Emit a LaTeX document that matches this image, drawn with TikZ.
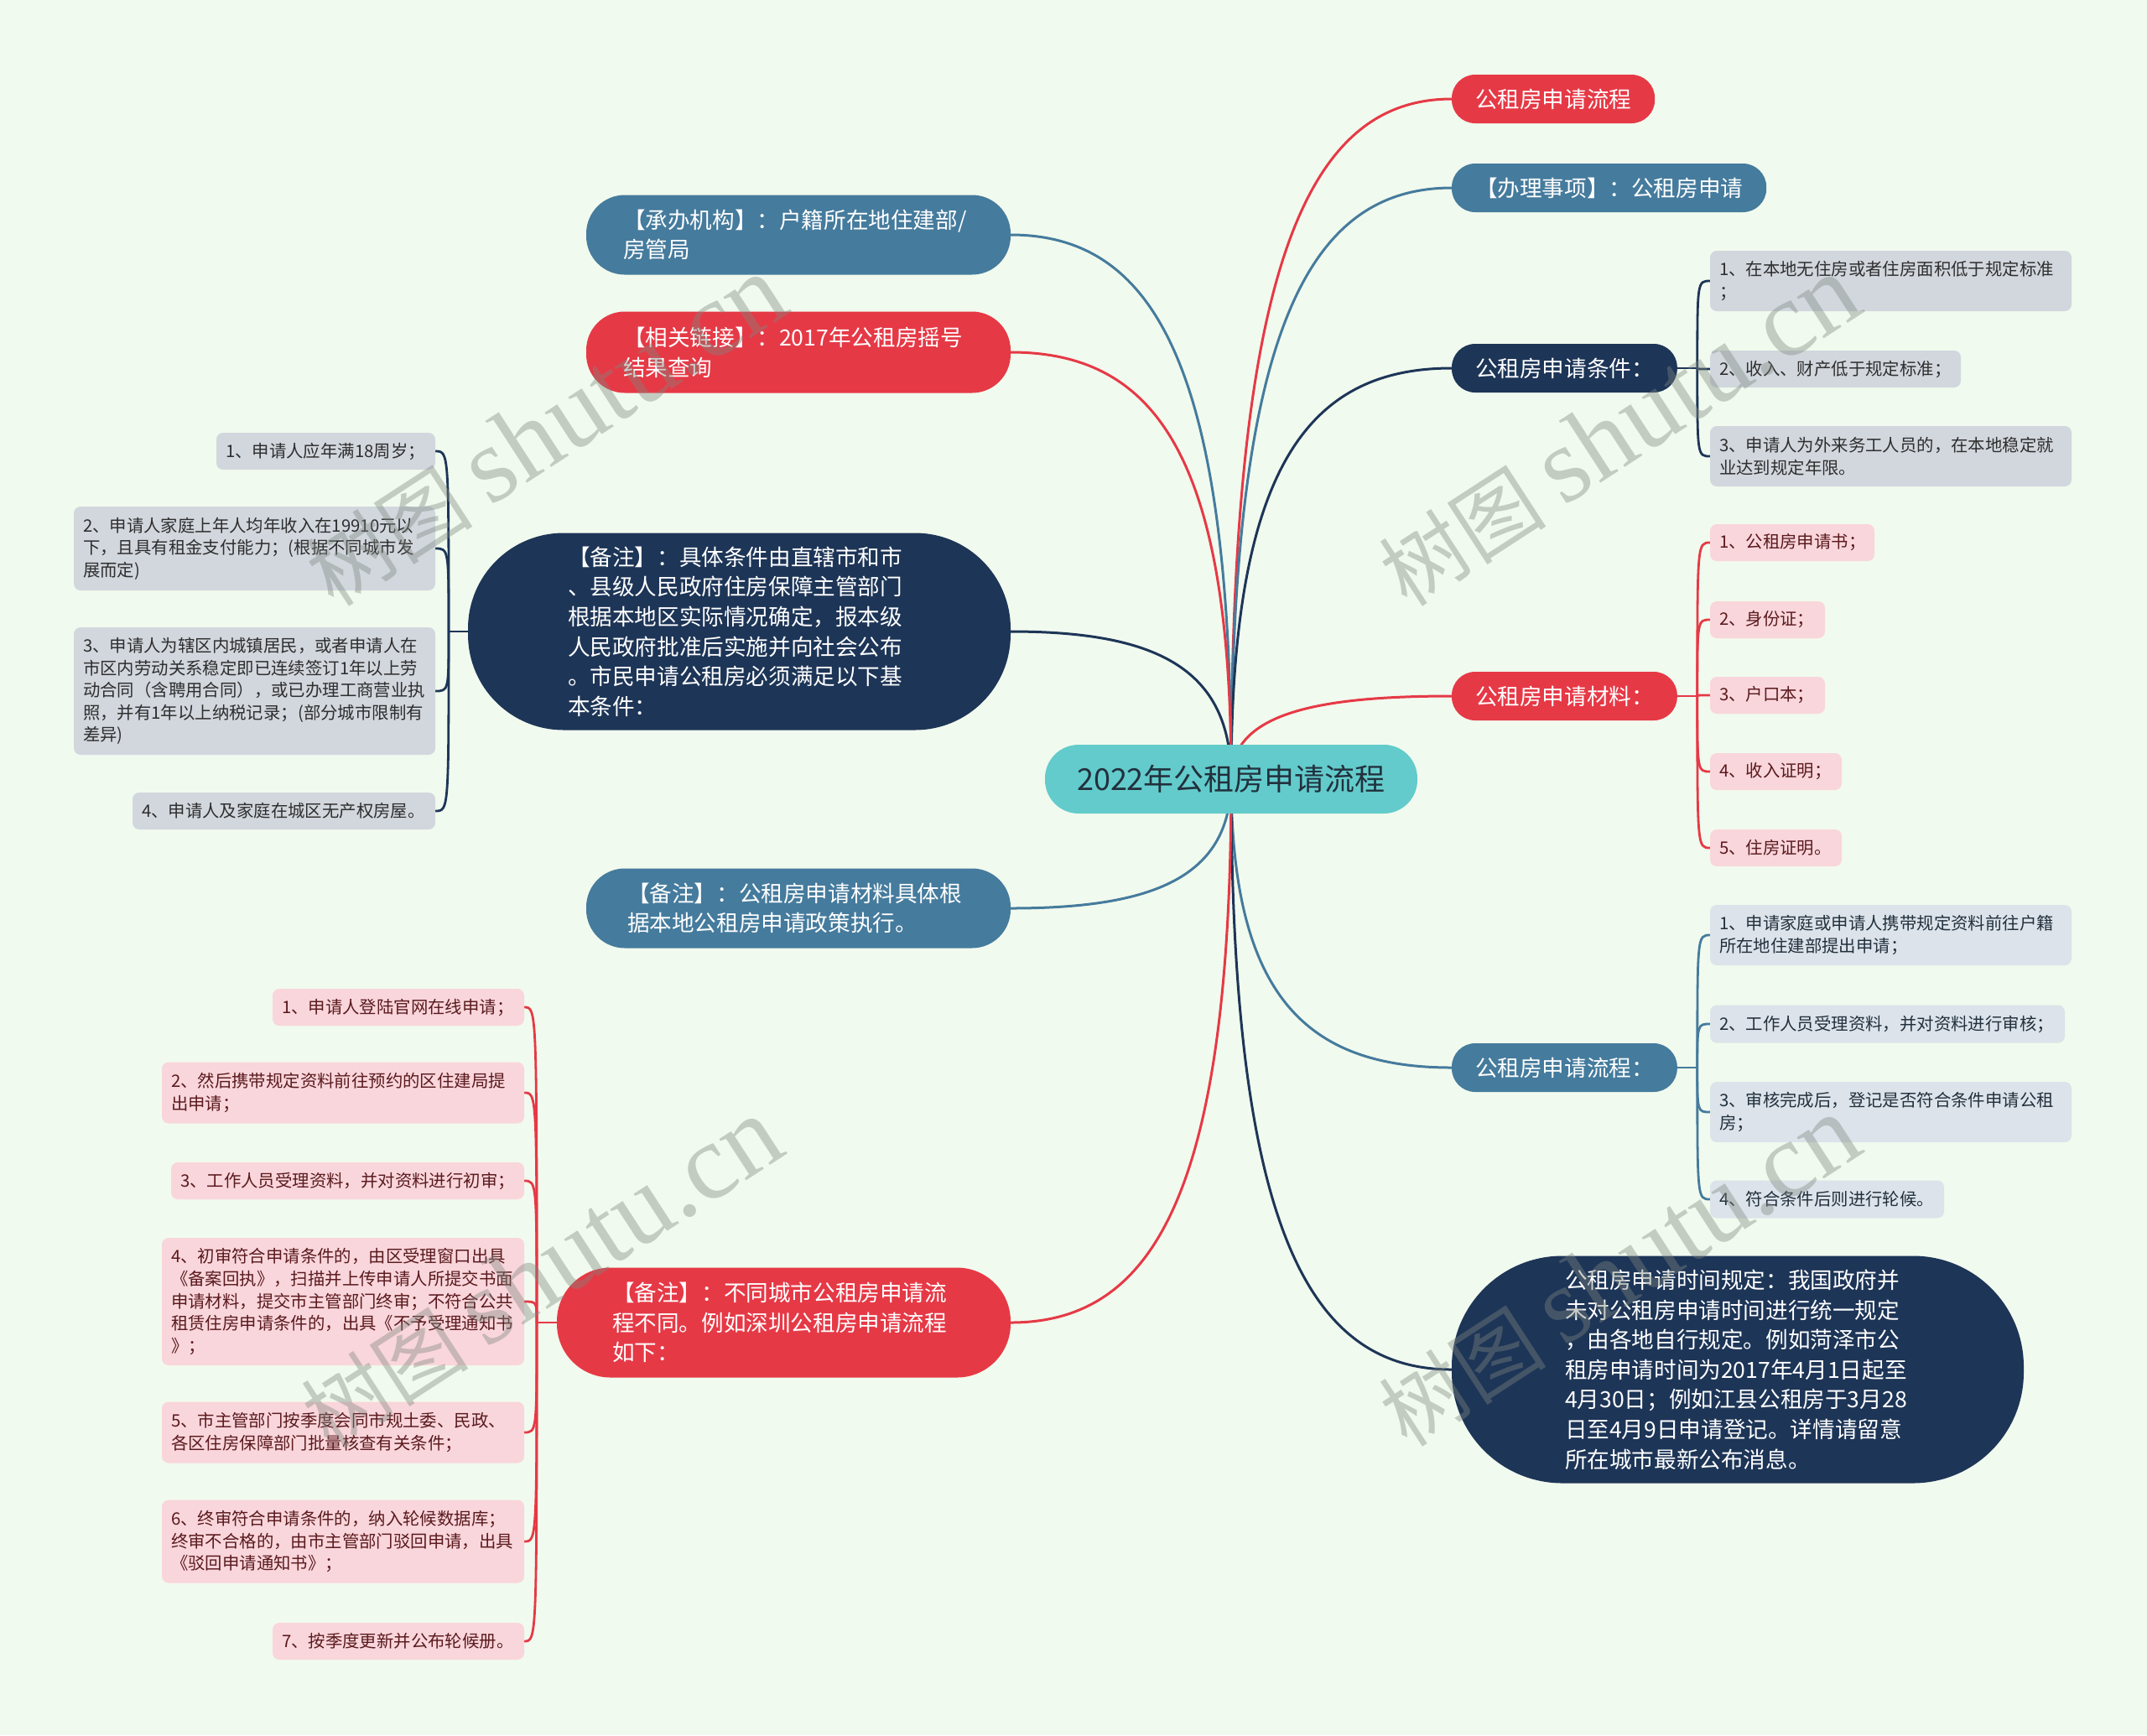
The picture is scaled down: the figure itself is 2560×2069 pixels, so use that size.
\documentclass[tikz,border=0pt]{standalone}
\usepackage{fontspec}
\setmainfont{Noto Sans CJK SC}
\newfontfamily\wmserif{Liberation Serif}
\usetikzlibrary{calc,backgrounds}
\definecolor{bgc}{HTML}{F1FAEE}
\definecolor{cred}{HTML}{E63946}
\definecolor{cblue}{HTML}{457B9D}
\definecolor{cnavy}{HTML}{1D3557}
\definecolor{cteal}{HTML}{63CBCB}
\definecolor{lgray}{HTML}{D2D7DE}
\definecolor{lpink}{HTML}{F9D6DB}
\definecolor{lblue}{HTML}{DCE3EA}
\definecolor{tgray}{HTML}{2E2E2E}
\definecolor{tmaroon}{HTML}{5A1A1E}
\definecolor{tdark}{HTML}{22303D}
\definecolor{wm}{HTML}{7F877F}
\tikzset{
 every node/.style={inner sep=0pt, outer sep=0pt},
 lone/.style={rounded corners=14pt, inner xsep=14pt, minimum height=29pt, text=white, font=\fontsize{13.3}{17.8}\selectfont},
 lbox/.style={rounded corners=#1, text=white, align=left, font=\fontsize{13.3}{17.8}\selectfont},
 leaf/.style={rounded corners=4pt, inner xsep=5.5pt, align=left, font=\fontsize{10.2}{13.3}\selectfont},
 gleaf/.style={leaf, fill=lgray, text=tgray},
 pleaf/.style={leaf, fill=lpink, text=tmaroon},
 bleaf/.style={leaf, fill=lblue, text=tdark},
 link/.style={line width=1.5pt},
 brk/.style={line width=1.4pt},
 wmark/.style={rotate=33, text=wm, opacity=0.4},
}
\newcommand\mmcurve[3]{\draw[link,#1] (#2) .. controls ($(#2)!0.76!(#2 |- #3)$) and ($(#2 |- #3)!0.35!(#3)$) .. (#3);}
\newcommand\mmbrace[3]{\draw[brk,#1] (#2) .. controls (#2 |- #3) .. (#3);}
\begin{document}
\begin{tikzpicture}[x=0.5pt,y=-0.5pt]
\begin{scope}[on background layer]
\fill[bgc] (0,0) rectangle (2560,2069);
\end{scope}
\useasboundingbox (0,0) rectangle (2560,2069);

% root
\node[fill=cteal, rounded corners=20pt, minimum width=222pt, minimum height=41pt, text=tdark, font=\fontsize{18}{20}\selectfont] (root) at (1468,929) {2022年公租房申请流程};

% right level 1
\node[lone, fill=cred, anchor=west] (r1) at (1731,118) {公租房申请流程};
\node[lone, fill=cblue, anchor=west] (r2) at (1731,224) {【办理事项】：公租房申请};
\node[lone, fill=cnavy, anchor=west] (r3) at (1731,439) {公租房申请条件：};
\node[lone, fill=cred, anchor=west] (r4) at (1731,830) {公租房申请材料：};
\node[lone, fill=cblue, anchor=west] (r5) at (1731,1273) {公租房申请流程：};
\node[lbox=66pt, fill=cnavy, anchor=west, inner xsep=67.5pt, text width=206pt, minimum height=135.5pt] (r6) at (1731,1633) {公租房申请时间规定：我国政府并\\未对公租房申请时间进行统一规定\\，由各地自行规定。例如菏泽市公\\租房申请时间为2017年4月1日起至\\4月30日；例如江县公租房于3月28\\日至4月9日申请登记。详情请留意\\所在城市最新公布消息。};

% left level 1
\node[lbox=23pt, fill=cblue, anchor=east, inner xsep=22pt, text width=209pt, minimum height=47.5pt] (l1) at (1205,280) {【承办机构】：户籍所在地住建部/\\房管局};
\node[lbox=23pt, fill=cred, anchor=east, inner xsep=22pt, text width=209pt, minimum height=48.5pt] (l2) at (1205,420) {【相关链接】：2017年公租房摇号\\结果查询};
\node[lbox=57pt, fill=cnavy, anchor=east, inner xsep=59.5pt, text width=204.5pt, minimum height=117.5pt] (l3) at (1205,753) {【备注】：具体条件由直辖市和市\\、县级人民政府住房保障主管部门\\根据本地区实际情况确定，报本级\\人民政府批准后实施并向社会公布\\。市民申请公租房必须满足以下基\\本条件：};
\node[lbox=23pt, fill=cblue, anchor=east, inner xsep=24.5pt, text width=204pt, minimum height=47.5pt] (l4) at (1205,1083) {【备注】：公租房申请材料具体根\\据本地公租房申请政策执行。};
\node[lbox=32pt, fill=cred, anchor=east, inner xsep=33pt, text width=204.5pt, minimum height=65.5pt] (l5) at (1205,1577) {【备注】：不同城市公租房申请流\\程不同。例如深圳公租房申请流程\\如下：};

% right leaves: conditions
\node[gleaf, anchor=west, text width=204.5pt, minimum height=36pt] (c1) at (2039,335) {1、在本地无住房或者住房面积低于规定标准\\；};
\node[gleaf, anchor=west, text width=138.5pt, minimum height=22pt] (c2) at (2039,440) {2、收入、财产低于规定标准；};
\node[gleaf, anchor=west, text width=204.5pt, minimum height=36pt] (c3) at (2039,544) {3、申请人为外来务工人员的，在本地稳定就\\业达到规定年限。};

% right leaves: materials
\node[pleaf, anchor=west, text width=87pt, minimum height=22pt] (m1) at (2039,647) {1、公租房申请书；};
\node[pleaf, anchor=west, text width=57.5pt, minimum height=22pt] (m2) at (2039,739) {2、身份证；};
\node[pleaf, anchor=west, text width=57.5pt, minimum height=22pt] (m3) at (2039,829) {3、户口本；};
\node[pleaf, anchor=west, text width=67.5pt, minimum height=22pt] (m4) at (2039,920) {4、收入证明；};
\node[pleaf, anchor=west, text width=67.5pt, minimum height=22pt] (m5) at (2039,1011) {5、住房证明。};

% right leaves: process
\node[bleaf, anchor=west, text width=204.5pt, minimum height=36pt] (p1) at (2039,1115) {1、申请家庭或申请人携带规定资料前往户籍\\所在地住建部提出申请；};
\node[bleaf, anchor=west, text width=200.5pt, minimum height=22.5pt] (p2) at (2039,1221) {2、工作人员受理资料，并对资料进行审核；};
\node[bleaf, anchor=west, text width=204.5pt, minimum height=36pt] (p3) at (2039,1326) {3、审核完成后，登记是否符合条件申请公租\\房；};
\node[bleaf, anchor=west, text width=128.5pt, minimum height=22.5pt] (p4) at (2039,1430) {4、符合条件后则进行轮候。};

% left leaves: basic conditions
\node[gleaf, anchor=east, text width=119.5pt, minimum height=22pt] (g1) at (519,538) {1、申请人应年满18周岁；};
\node[gleaf, anchor=east, text width=204.5pt, minimum height=50pt] (g2) at (519,654) {2、申请人家庭上年人均年收入在19910元以\\下，且具有租金支付能力；(根据不同城市发\\展而定)};
\node[gleaf, anchor=east, text width=204.5pt, minimum height=76pt] (g3) at (519,824) {3、申请人为辖区内城镇居民，或者申请人在\\市区内劳动关系稳定即已连续签订1年以上劳\\动合同（含聘用合同），或已办理工商营业执\\照，并有1年以上纳税记录；(部分城市限制有\\差异)};
\node[gleaf, anchor=east, text width=169.5pt, minimum height=22pt] (g4) at (519,967) {4、申请人及家庭在城区无产权房屋。};

% left leaves: Shenzhen process
\node[pleaf, anchor=east, text width=139pt, minimum height=22pt] (s1) at (625,1201) {1、申请人登陆官网在线申请；};
\node[pleaf, anchor=east, text width=205pt, minimum height=36.5pt] (s2) at (625,1303) {2、然后携带规定资料前往预约的区住建局提\\出申请；};
\node[pleaf, anchor=east, text width=199.5pt, minimum height=22pt] (s3) at (625,1408) {3、工作人员受理资料，并对资料进行初审；};
\node[pleaf, anchor=east, text width=205pt, minimum height=76pt] (s4) at (625,1552) {4、初审符合申请条件的，由区受理窗口出具\\《备案回执》，扫描并上传申请人所提交书面\\申请材料，提交市主管部门终审；不符合公共\\租赁住房申请条件的，出具《不予受理通知书\\》；};
\node[pleaf, anchor=east, text width=205pt, minimum height=36.5pt] (s5) at (625,1708) {5、市主管部门按季度会同市规土委、民政、\\各区住房保障部门批量核查有关条件；};
\node[pleaf, anchor=east, text width=205pt, minimum height=49.5pt] (s6) at (625,1838) {6、终审符合申请条件的，纳入轮候数据库；\\终审不合格的，由市主管部门驳回申请，出具\\《驳回申请通知书》；};
\node[pleaf, anchor=east, text width=139pt, minimum height=22pt] (s7) at (625,1957) {7、按季度更新并公布轮候册。};

% bracket points
\coordinate (r3b) at ($(r3.east)+(24,0)$);
\coordinate (r4b) at ($(r4.east)+(24,0)$);
\coordinate (r5b) at ($(r5.east)+(24,0)$);
\coordinate (l3b) at ($(l3.west)+(-23,0)$);
\coordinate (l5b) at ($(l5.west)+(-24,0)$);

\begin{scope}[on background layer]
\mmcurve{cred}{root.center}{r1.west}
\mmcurve{cblue}{root.center}{r2.west}
\mmcurve{cnavy}{root.center}{r3.west}
\mmcurve{cred}{root.center}{r4.west}
\mmcurve{cblue}{root.center}{r5.west}
\mmcurve{cnavy}{root.center}{r6.west}
\mmcurve{cblue}{root.center}{l1.east}
\mmcurve{cred}{root.center}{l2.east}
\mmcurve{cnavy}{root.center}{l3.east}
\mmcurve{cblue}{root.center}{l4.east}
\mmcurve{cred}{root.center}{l5.east}
\draw[brk,cnavy] (r3.east) -- (r3b);
\draw[brk,cred] (r4.east) -- (r4b);
\draw[brk,cblue] (r5.east) -- (r5b);
\draw[brk,cnavy] (l3.west) -- (l3b);
\draw[brk,cred] (l5.west) -- (l5b);
\foreach \n in {c1,c2,c3} {\mmbrace{cnavy}{r3b}{\n.west}}
\foreach \n in {m1,m2,m3,m4,m5} {\mmbrace{cred}{r4b}{\n.west}}
\foreach \n in {p1,p2,p3,p4} {\mmbrace{cblue}{r5b}{\n.west}}
\foreach \n in {g1,g2,g3,g4} {\mmbrace{cnavy}{l3b}{\n.east}}
\foreach \n in {s1,s2,s3,s4,s5,s6,s7} {\mmbrace{cred}{l5b}{\n.east}}
\end{scope}

% watermarks
\node[wmark] (w1) at (650,514) {\fontsize{50}{50}\selectfont 树图 {\wmserif\fontsize{64}{64}\selectfont shutu.cn}};
\node[wmark] (w2) at (1930,514) {\fontsize{50}{50}\selectfont 树图 {\wmserif\fontsize{64}{64}\selectfont shutu.cn}};
\node[wmark] (w3) at (645,1518) {\fontsize{50}{50}\selectfont 树图 {\wmserif\fontsize{64}{64}\selectfont shutu.cn}};
\node[wmark] (w4) at (1930,1516) {\fontsize{50}{50}\selectfont 树图 {\wmserif\fontsize{64}{64}\selectfont shutu.cn}};
\end{tikzpicture}
\end{document}
